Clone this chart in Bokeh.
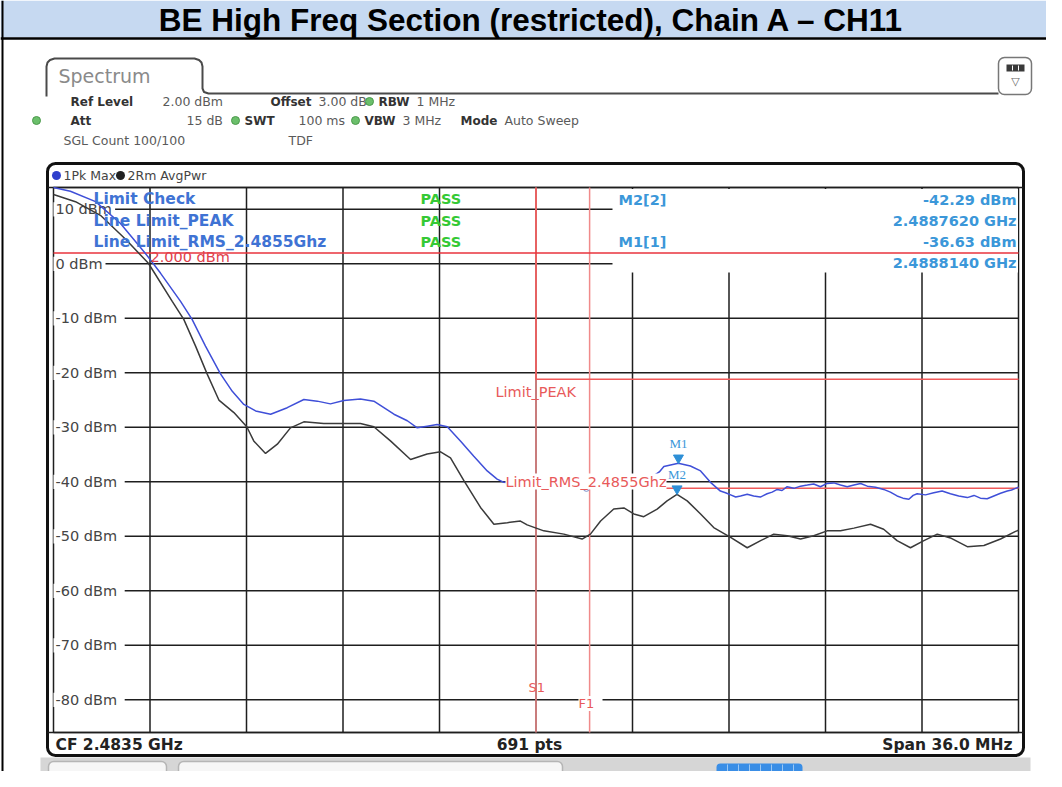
from bokeh.plotting import figure
from bokeh.models import Range1d, ColumnDataSource, LabelSet, Label, BoxAnnotation
from bokeh.core.properties import value
from bokeh.embed import file_html
from bokeh.resources import INLINE

# ------------------------------------------------------------------ data
TITLE = "BE High Freq Section (restricted), Chain A \u2013 CH11"

center_mhz = 2483.5
span_mhz = 36.0
grid_top_dbm = 14.0
grid_db_range = 100.0
y_tick_dbm = [10, 0, -10, -20, -30, -40, -50, -60, -70, -80]
y_tick_labels = ["10 dBm", "0 dBm", "-10 dBm", "-20 dBm", "-30 dBm",
                 "-40 dBm", "-50 dBm", "-60 dBm", "-70 dBm", "-80 dBm"]

display_line_dbm = 2.0
display_line_label = "2.000 dBm"
s1_mhz = 2483.5
f1_mhz = 2485.5
limit_peak_dbm = -21.2
limit_rms_dbm = -41.2
limit_peak_name = "Limit_PEAK"
limit_rms_name = "Limit_RMS_2.4855Ghz"

# trace 1: Pk Max (blue)
pk_freq = [2465.50, 2466.13, 2467.07, 2468.00, 2468.93, 2469.49, 2470.24, 2470.67,
           2471.17, 2471.73, 2472.17, 2472.60, 2473.04, 2473.60, 2474.22, 2474.84,
           2475.34, 2475.83, 2476.33, 2476.95, 2477.45, 2478.20, 2478.70, 2479.07,
           2479.44, 2479.81, 2480.19, 2480.68, 2481.18, 2481.68, 2482.05, 2482.30,
           2483.00, 2484.00, 2485.00, 2486.00, 2487.00, 2487.80, 2488.10, 2488.27,
           2488.81, 2489.26, 2489.64, 2490.01, 2490.38, 2490.57, 2490.76, 2490.95,
           2491.13, 2491.38, 2491.62, 2491.87, 2492.12, 2492.31, 2492.50, 2492.68,
           2492.87, 2493.12, 2493.37, 2493.62, 2493.86, 2494.11, 2494.36, 2494.61,
           2494.86, 2495.11, 2495.36, 2495.61, 2495.86, 2496.17, 2496.47, 2496.72,
           2496.97, 2497.19, 2497.41, 2497.57, 2497.72, 2498.03, 2498.34, 2498.65,
           2498.96, 2499.27, 2499.59, 2499.84, 2500.08, 2500.33, 2500.58, 2500.83,
           2501.08, 2501.24, 2501.39, 2501.50]
pk_dbm = [14.0, 13.3, 11.4, 7.4, 1.9, -1.7, -6.9, -10.2,
          -15.1, -20.2, -23.4, -25.8, -27.0, -27.6, -26.4, -24.9,
          -25.2, -25.7, -25.1, -24.8, -25.2, -27.6, -28.8, -30.1,
          -29.8, -29.5, -29.9, -32.5, -35.3, -38.0, -39.5, -40.1,
          -40.3, -40.8, -41.0, -40.5, -40.0, -39.2, -38.2, -37.2,
          -36.6, -37.1, -38.0, -40.1, -41.7, -42.0, -42.4, -42.8,
          -42.6, -42.3, -42.6, -42.8, -42.2, -41.9, -41.4, -41.6,
          -40.9, -41.2, -40.8, -40.6, -40.4, -40.9, -40.3, -40.2,
          -40.6, -40.9, -40.6, -40.3, -40.8, -41.0, -41.4, -41.9,
          -42.6, -43.0, -43.2, -42.5, -42.2, -42.4, -42.0, -41.7,
          -42.2, -42.6, -42.9, -42.5, -43.0, -43.1, -42.6, -42.1,
          -41.7, -41.5, -41.2, -41.0]

# trace 2: Rm AvgPwr (black)
avg_freq = [2465.50, 2466.32, 2467.25, 2468.19, 2469.04, 2469.93, 2470.36, 2470.80,
            2471.23, 2471.67, 2472.23, 2472.71, 2472.97, 2473.41, 2473.85, 2474.34,
            2474.84, 2475.58, 2476.95, 2477.45, 2478.07, 2478.82, 2479.44, 2479.94,
            2480.31, 2480.81, 2481.43, 2481.93, 2482.43, 2482.92, 2483.17, 2483.79,
            2484.54, 2485.22, 2485.53, 2485.91, 2486.40, 2486.78, 2487.15, 2487.52,
            2488.02, 2488.39, 2488.76, 2489.14, 2489.64, 2490.13, 2490.76, 2491.38,
            2491.88, 2492.37, 2492.87, 2493.37, 2493.86, 2494.36, 2494.86, 2495.36,
            2495.98, 2496.47, 2496.97, 2497.47, 2497.97, 2498.47, 2498.96, 2499.59,
            2500.21, 2500.83, 2501.39, 2501.50]
avg_dbm = [12.7, 11.4, 8.9, 4.5, 0.1, -6.9, -10.2, -15.1,
           -20.2, -25.0, -27.3, -29.9, -32.5, -34.8, -33.1, -30.1,
           -29.0, -29.3, -29.3, -29.9, -32.5, -35.9, -34.9, -34.5,
           -35.6, -39.8, -44.7, -47.8, -47.5, -47.2, -47.9, -49.0,
           -49.6, -50.5, -49.6, -47.2, -45.0, -44.8, -45.9, -46.4,
           -45.0, -43.5, -42.3, -43.5, -45.9, -48.4, -50.2, -52.1,
           -50.8, -49.6, -49.9, -50.5, -49.9, -49.0, -49.0, -48.5,
           -47.8, -48.7, -50.8, -52.1, -50.8, -49.6, -50.3, -51.9,
           -51.7, -50.5, -49.1, -48.9]

marker_names = ["M1", "M2"]
marker_freq = [2488.814, 2488.762]
marker_dbm = [-36.63, -42.29]

marker_table_names = ["M2[2]", "M1[1]"]
marker_table_values = ["-42.29 dBm", "2.4887620 GHz", "-36.63 dBm", "2.4888140 GHz"]

limit_rows = ["Limit Check", "Line Limit_PEAK", "Line Limit_RMS_2.4855Ghz"]
limit_results = ["PASS", "PASS", "PASS"]

header_keys = ["Ref Level", "Offset", "RBW", "Att", "SWT", "VBW", "Mode"]
header_values = ["2.00 dBm", "3.00 dB", "1 MHz", "15 dB", "100 ms", "3 MHz",
                 "Auto Sweep", "SGL Count 100/100", "TDF"]
trace_names = ["1Pk Max", "2Rm AvgPwr"]
status_texts = ["CF 2.4835 GHz", "691 pts", "Span 36.0 MHz"]
tab_name = "Spectrum"

# ------------------------------------------------------------------ layout (reference pixels)
W, H, OFF = 1046, 771, 0
GL, GR, GT, GB = 53.0, 1018.0, 187.0, 732.0

f_start = center_mhz - span_mhz / 2
f_stop = center_mhz + span_mhz / 2
grid_bottom_dbm = grid_top_dbm - grid_db_range
ppm = (GR - GL) / span_mhz
ppd = (GB - GT) / grid_db_range

x_lo = f_start - (GL - OFF) / ppm
x_hi = f_start + (OFF + W - GL) / ppm
y_hi = grid_top_dbm + (GT - OFF) / ppd
y_lo = grid_top_dbm - (OFF + H - GT) / ppd

p = figure(width=W, height=H, x_range=Range1d(x_lo, x_hi), y_range=Range1d(y_lo, y_hi),
           output_backend="svg", toolbar_location=None, min_border=0,
           x_axis_type=None, y_axis_type=None)
p.extra_x_ranges = {"px": Range1d(OFF, OFF + W)}
p.extra_y_ranges = {"px": Range1d(OFF + H, OFF)}
p.outline_line_color = None
p.background_fill_color = "white"
p.border_fill_color = "white"

PX = dict(x_range_name="px", y_range_name="px")
FONT = "DejaVu Sans"


def ptext(xs, ys, texts, size, color, bold=False, align="left", font=FONT):
    src = ColumnDataSource(dict(x=xs, y=ys, t=texts))
    p.text(x="x", y="y", text="t", source=src, text_font=value(font),
           text_font_size=f"{size}px", text_font_style="bold" if bold else "normal",
           text_color=color, text_align=align, text_baseline="middle", **PX)


def rbox(l, r, t, b, fill, line, lw=1.5, radius=0):
    p.add_layout(BoxAnnotation(left=l, right=r, top=t, bottom=b, border_radius=radius,
                               fill_color=fill, fill_alpha=1, line_color=line, line_alpha=1,
                               line_width=lw, level="underlay", **PX))


# ---------------- underlay boxes (frame, icon, soft keys)
rbox(47, 1023, 163, 755, "white", "#111111", 3, 8)
rbox(998, 1031, 57, 94, "white", "#777777", 1.5, 6)
rbox(40, 1030, 757, 800, "#d6d6d6", None, 0, 0)
rbox(48, 166, 761, 800, "#f6f6f6", "#b5b5b5", 1.5, 5)
rbox(178, 562, 761, 800, "#f6f6f6", "#b5b5b5", 1.5, 5)
rbox(716, 802, 763, 779, "#3a8ee6", None, 0, 4)
p.segment(x0=[727, 738, 749, 760, 771, 782, 793], y0=[764] * 7,
          x1=[727, 738, 749, 760, 771, 782, 793], y1=[778] * 7,
          line_color="#9cc8f4", line_width=1, **PX)

# ---------------- title band
p.quad(left=[0], right=[1062], top=[0], bottom=[37], fill_color="#c6d9f1", line_color=None, **PX)
p.segment(x0=[0], y0=[38], x1=[1062], y1=[38], line_color="black", line_width=2.5, **PX)
p.segment(x0=[2], y0=[0], x1=[2], y1=[787], line_color="black", line_width=2, **PX)
ptext([531], [19], [TITLE], 31.5, "black", bold=True, align="center", font="Liberation Sans")

# ---------------- instrument tab + icon
p.line(x=[46, 46, 47, 49.5, 54, 194, 198.5, 201, 202, 202, 203.5, 208, 998],
       y=[96, 66, 62, 59.5, 58, 58, 59.5, 62, 66, 88, 91.5, 93, 93],
       line_color="#4a4a4a", line_width=2, **PX)
ptext([58], [75], [tab_name], 19, "#8a8a8a")
p.quad(left=[1006], right=[1024], top=[64], bottom=[71], fill_color="#3a3a3a", line_color=None, **PX)
p.segment(x0=[1012, 1018], y0=[65, 65], x1=[1012, 1018], y1=[70, 70], line_color="white",
          line_width=1, **PX)
ptext([1015], [81], ["\u25bd"], 11, "#666666", align="center")

# ---------------- header rows
ptext([70, 270, 378, 70, 244, 364, 460], [101, 101, 101, 120, 120, 120, 120],
      header_keys, 12, "#333333", bold=True)
ptext([162, 318, 416, 186, 298, 402, 504, 63, 288], [101, 101, 101, 120, 120, 120, 120, 140, 140],
      header_values, 12.5, "#5a5a5a")
p.scatter(x=[369, 36, 235, 355], y=[101, 120, 120, 120], size=8, fill_color="#6bbf6b",
          line_color="#4c9a4c", **PX)

# ---------------- trace legend row
p.scatter(x=[56, 120], y=[175, 175], size=9, fill_color=["#2f3fcc", "#222222"],
          line_color=None, **PX)
ptext([63, 127], [175, 175], trace_names, 12.5, "#444444")

# ---------------- grid
vx = [f_start + k * span_mhz / 10 for k in range(11)]
p.segment(x0=vx, y0=[grid_bottom_dbm] * 11, x1=vx, y1=[grid_top_dbm] * 11,
          line_color="#1e1e1e", line_width=1.5)
hy = y_tick_dbm + [grid_top_dbm, grid_bottom_dbm]
p.segment(x0=[f_start] * len(hy), y0=hy, x1=[f_stop] * len(hy), y1=hy,
          line_color="#1e1e1e", line_width=1.5)
p.segment(x0=[47, 47], y0=[GT, GB], x1=[1023, 1023], y1=[GT, GB], line_color="#1e1e1e",
          line_width=1.5, **PX)

# white area behind the marker table
p.quad(left=[612], right=[GR - 0.5], top=[GT + 1.5], bottom=[272], fill_color="white",
       line_color=None, **PX)

# y labels (white background)
lab_w = [9.6 * len(s) + 4 for s in y_tick_labels]
p.quad(left=[GL] * len(y_tick_dbm), right=[GL + w for w in lab_w],
       top=[d + 1.3 for d in y_tick_dbm], bottom=[d - 1.3 for d in y_tick_dbm],
       fill_color="white", line_color=None, x_range_name="px")
ysrc = ColumnDataSource(dict(x=[GL + 2] * len(y_tick_dbm), y=y_tick_dbm, t=y_tick_labels))
p.text(x="x", y="y", text="t", source=ysrc, text_font=value(FONT), text_font_size="14.5px",
       text_color="#454545", text_baseline="middle", x_range_name="px")

# ---------------- display / limit lines
p.segment(x0=[s1_mhz, f1_mhz], y0=[grid_bottom_dbm] * 2, x1=[s1_mhz, f1_mhz],
          y1=[grid_top_dbm] * 2, line_color="#f08a8a", line_width=1.5)
p.line(x=[s1_mhz, s1_mhz, f_stop], y=[grid_top_dbm, limit_peak_dbm, limit_peak_dbm],
       line_color="#f05a5a", line_width=1.5)
p.line(x=[f1_mhz, f_stop], y=[limit_rms_dbm, limit_rms_dbm], line_color="#f05a5a", line_width=1.5)
p.segment(x0=[f_start], y0=[display_line_dbm], x1=[f_stop], y1=[display_line_dbm],
          line_color="#e8333c", line_width=1.5)

# ---------------- traces
p.line(x=avg_freq, y=avg_dbm, line_color="#3a3a3a", line_width=1.5)
p.line(x=pk_freq, y=pk_dbm, line_color="#3f4fd8", line_width=1.5)
p.scatter(x=[f1_mhz - 0.12], y=[limit_rms_dbm], size=6, fill_color=None,
          line_color="#7a8cc8", line_width=1)

# ---------------- limit texts
ptext([150], [256], [display_line_label], 14.5, "#e0404a")
ptext([495], [391], [limit_peak_name], 14.5, "#e85a5a")
p.add_layout(Label(x=505, y=481, text=limit_rms_name, text_font=FONT, text_font_size="14.5px",
                   text_color="#e85a5a", text_baseline="middle", background_fill_color="white",
                   **PX))
ptext([528], [687], ["S1"], 13, "#e85a5a")
p.add_layout(Label(x=578, y=703, text=" F1 ", text_font=FONT, text_font_size="13px",
                   text_color="#e85a5a", text_baseline="middle", background_fill_color="white",
                   **PX))

# ---------------- markers
p.scatter(x=marker_freq, y=[d + 5.5 / ppd for d in marker_dbm], marker="inverted_triangle",
          size=10, fill_color="#2e8fd6", line_color="#2e8fd6")
msrc = ColumnDataSource(dict(f=marker_freq, d=marker_dbm, n=marker_names))
p.add_layout(LabelSet(x="f", y="d", text="n", source=msrc, y_offset=20, text_align="center",
                      text_baseline="middle", text_font=FONT, text_font_size="13px",
                      text_color="#3b97d9"))

# ---------------- limit check table
ptext([93, 93, 93], [198, 220, 241], limit_rows, 15.5, "#3f73d4", bold=True)
ptext([420, 420, 420], [198, 220, 241], limit_results, 14.5, "#35c935", bold=True)

# ---------------- marker table
ptext([618, 618], [199, 241], marker_table_names, 14.5, "#3b97d9", bold=True)
ptext([1016] * 4, [199, 220, 241, 262], marker_table_values, 14.5, "#3b97d9", bold=True,
      align="right")

# ---------------- status bar
ptext([55], [744], [status_texts[0]], 15.5, "#222222", bold=True)
ptext([529], [744], [status_texts[1]], 15.5, "#222222", bold=True, align="center")
ptext([1012], [744], [status_texts[2]], 15.5, "#222222", bold=True, align="right")

open("out.html", "w").write(file_html(p, INLINE))
